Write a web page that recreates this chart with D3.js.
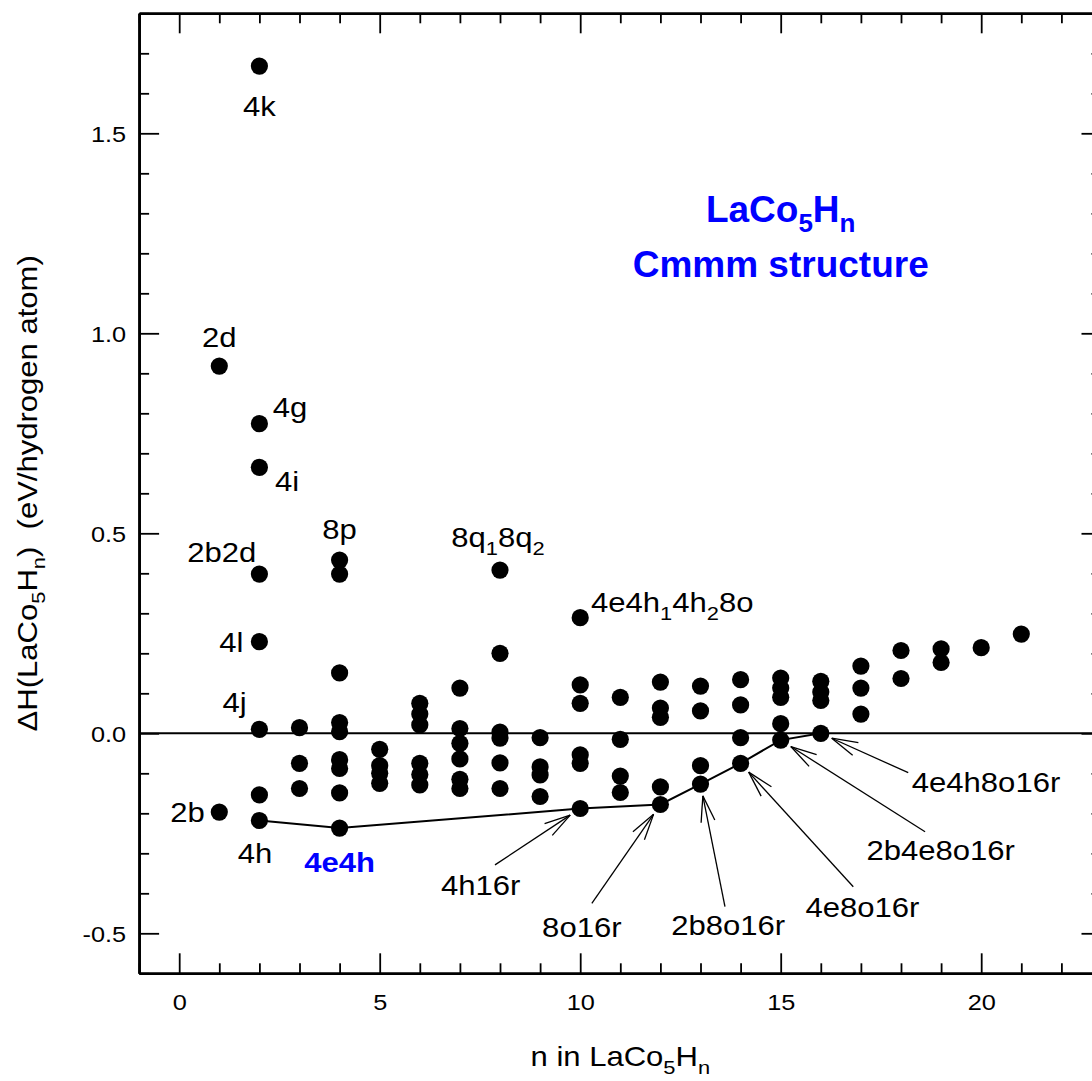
<!DOCTYPE html>
<html>
<head>
<meta charset="utf-8">
<script src="https://cdn.jsdelivr.net/npm/d3@7"></script>
<style>
  html, body { margin: 0; padding: 0; background: #fff; }
  svg { display: block; }
  text { font-family: "Liberation Sans", Arial, Helvetica, sans-serif; }
</style>
</head>
<body>
<svg id="chart" width="1092" height="1081"></svg>
<script>
// Formation enthalpy per hydrogen atom of LaCo5Hn (Cmmm cell) against hydrogen count n

const hydrogenCount = [
  1, 1,
  2, 2, 2, 2, 2, 2, 2, 2,
  3, 3, 3,
  4, 4, 4, 4, 4, 4, 4, 4, 4,
  5, 5, 5, 5,
  6, 6, 6, 6, 6, 6,
  7, 7, 7, 7, 7, 7,
  8, 8, 8, 8, 8, 8,
  9, 9, 9, 9,
  10, 10, 10, 10, 10, 10,
  11, 11, 11, 11,
  12, 12, 12, 12, 12,
  13, 13, 13, 13,
  14, 14, 14, 14,
  15, 15, 15, 15, 15,
  16, 16, 16, 16,
  17, 17, 17,
  18, 18,
  19, 19,
  20,
  21
];

const formationEnthalpy = [
  0.918, -0.197,
  1.668, 0.774, 0.665, 0.398, 0.229, 0.010, -0.154, -0.218,
  0.014, -0.075, -0.138,
  0.433, 0.398, 0.151, 0.027, 0.004, -0.066, -0.088, -0.149, -0.237,
  -0.040, -0.081, -0.100, -0.125,
  0.075, 0.048, 0.021, -0.075, -0.103, -0.129,
  0.113, 0.012, -0.025, -0.064, -0.115, -0.138,
  0.408, 0.200, 0.003, -0.012, -0.074, -0.138,
  -0.011, -0.084, -0.104, -0.158,
  0.289, 0.121, 0.075, -0.054, -0.075, -0.188,
  0.090, -0.015, -0.107, -0.148,
  0.128, 0.063, 0.040, -0.134, -0.178,
  0.118, 0.056, -0.081, -0.127,
  0.134, 0.071, -0.011, -0.075,
  0.138, 0.113, 0.090, 0.024, -0.017,
  0.130, 0.103, 0.082, 0.000,
  0.168, 0.113, 0.048,
  0.207, 0.137,
  0.211, 0.177,
  0.214,
  0.248
];

// lowest-energy configurations joined by the solid line
const hullCount = [2, 4, 10, 12, 13, 14, 15, 16];
const hullEnthalpy = [-0.218, -0.237, -0.188, -0.178, -0.127, -0.075, -0.017, 0.000];

const xMajorTicks = [0, 5, 10, 15, 20];
const xTickLabels = ["0", "5", "10", "15", "20"];
const yMajorTicks = [-0.5, 0.0, 0.5, 1.0, 1.5];
const yTickLabels = ["-0.5", "0.0", "0.5", "1.0", "1.5"];

// site-occupation labels placed beside individual configurations (data units)
const siteLabels = [
  { parts: ["4k"], n: 2, dH: 1.543, anchor: "middle" },
  { parts: ["2d"], n: 1, dH: 0.967, anchor: "middle" },
  { parts: ["4g"], n: 2.33, dH: 0.790, anchor: "start" },
  { parts: ["4i"], n: 2.39, dH: 0.6065, anchor: "start" },
  { parts: ["8p"], n: 4, dH: 0.485, anchor: "middle" },
  { parts: ["2b2d"], n: 1.92, dH: 0.429, anchor: "end" },
  { parts: ["4l"], n: 1.60, dH: 0.204, anchor: "end" },
  { parts: ["4j"], n: 1.68, dH: 0.054, anchor: "end" },
  { parts: ["2b"], n: 0.64, dH: -0.221, anchor: "end" },
  { parts: ["4h"], n: 1.89, dH: -0.325, anchor: "middle" },
  { parts: ["8q", { sub: "1" }, "8q", { sub: "2" }], n: 7.95, dH: 0.4665, anchor: "middle" },
  { parts: ["4e4h", { sub: "1" }, "4h", { sub: "2" }, "8o"], n: 10.27, dH: 0.304, anchor: "start" },
  { parts: ["4e4h"], n: 4, dH: -0.346, anchor: "middle", bold: true, fill: "#0000ff" }
];

// labels with arrows pointing at configurations on the lower line
const arrowLabels = [
  { parts: ["4h16r"], n: 7.52, dH: -0.404, anchor: "middle", fromN: 7.875, fromDH: -0.329, toN: 10, toDH: -0.188 },
  { parts: ["8o16r"], n: 10.04, dH: -0.5085, anchor: "middle", fromN: 10.29, fromDH: -0.425, toN: 12, toDH: -0.178 },
  { parts: ["2b8o16r"], n: 13.69, dH: -0.504, anchor: "middle", fromN: 13.61, fromDH: -0.4335, toN: 13, toDH: -0.127 },
  { parts: ["4e8o16r"], n: 17.04, dH: -0.4585, anchor: "middle", fromN: 16.81, fromDH: -0.3835, toN: 14, toDH: -0.075 },
  { parts: ["2b4e8o16r"], n: 18.99, dH: -0.317, anchor: "middle", fromN: 18.6, fromDH: -0.246, toN: 15, toDH: -0.017 },
  { parts: ["4e4h8o16r"], n: 18.27, dH: -0.146, anchor: "start", fromN: 18.18, fromDH: -0.0985, toN: 16, toDH: 0.000 }
];

const svg = d3.select("#chart");

const x = d3.scaleLinear().domain([-1, 23]).range([139.1, 1101.5]);
const y = d3.scaleLinear().domain([-0.6, 1.8]).range([973.3, 13.3]);

const STRETCH = 1.15;       // the lettering is set slightly expanded
const LABEL_SIZE = 27;
const SUB_SIZE = 19;
const SUB_SHIFT = 8;

// writes a text run with optional subscripts
function writeText(parent, px, py, parts, opt) {
  const sx = opt.stretch == null ? STRETCH : opt.stretch;
  const t = parent.append("text")
    .attr("transform", `translate(${px},${py})${opt.rotate ? ` rotate(${opt.rotate})` : ""} scale(${sx},1)`)
    .attr("text-anchor", opt.anchor || "start")
    .attr("font-size", opt.size || LABEL_SIZE)
    .attr("font-weight", opt.bold ? "bold" : "normal")
    .attr("fill", opt.fill || "#000")
    .style("white-space", "pre");
  const subSize = opt.subSize || SUB_SIZE;
  const shift = opt.subShift || SUB_SHIFT;
  let lowered = false;
  parts.forEach(p => {
    const span = t.append("tspan");
    if (typeof p === "string") {
      span.text(p);
      if (lowered) { span.attr("dy", -shift); lowered = false; }
    } else {
      span.text(p.sub).attr("font-size", subSize).attr("dy", shift);
      lowered = true;
    }
  });
  return t;
}

// zero reference line
svg.append("line")
  .attr("x1", x(-1)).attr("x2", x(23))
  .attr("y1", y(0)).attr("y2", y(0))
  .attr("stroke", "#000").attr("stroke-width", 2);

// lower line through the most stable configurations
const hullPoints = hullCount.map((n, i) => [n, hullEnthalpy[i]]);
svg.append("path")
  .attr("d", d3.line().x(d => x(d[0])).y(d => y(d[1]))(hullPoints))
  .attr("fill", "none").attr("stroke", "#000").attr("stroke-width", 2);

// configurations
svg.append("g").selectAll("circle")
  .data(hydrogenCount.map((n, i) => [n, formationEnthalpy[i]]))
  .join("circle")
  .attr("cx", d => x(d[0]))
  .attr("cy", d => y(d[1]))
  .attr("r", 8.6)
  .attr("fill", "#000");

// arrows
const arrowG = svg.append("g").attr("stroke", "#000").attr("stroke-width", 1.3).attr("fill", "none");
arrowLabels.forEach(a => {
  const sx = x(a.fromN), sy = y(a.fromDH);
  const tx = x(a.toN), ty = y(a.toDH);
  const len = Math.hypot(tx - sx, ty - sy);
  const ux = (tx - sx) / len, uy = (ty - sy) / len;
  const gap = 12;
  const hx = tx - ux * gap, hy = ty - uy * gap;
  arrowG.append("line").attr("x1", sx).attr("y1", sy).attr("x2", hx).attr("y2", hy);
  const headLen = 27, ang = 15 * Math.PI / 180;
  [ang, -ang].forEach(r => {
    const bx = -ux, by = -uy;
    const rx = bx * Math.cos(r) - by * Math.sin(r);
    const ry = bx * Math.sin(r) + by * Math.cos(r);
    arrowG.append("line")
      .attr("x1", hx).attr("y1", hy)
      .attr("x2", hx + rx * headLen).attr("y2", hy + ry * headLen);
  });
  writeText(svg, x(a.n), y(a.dH), a.parts, { anchor: a.anchor });
});

// site labels
siteLabels.forEach(l => {
  writeText(svg, x(l.n), y(l.dH), l.parts, { anchor: l.anchor, bold: l.bold, fill: l.fill });
});

// compound / structure caption
writeText(svg, x(15), y(1.279), ["LaCo", { sub: "5" }, "H", { sub: "n" }],
  { anchor: "middle", bold: true, fill: "#0000ff", size: 37, subSize: 26, subShift: 10, stretch: 1 });
writeText(svg, x(15), y(1.1415), ["Cmmm structure"],
  { anchor: "middle", bold: true, fill: "#0000ff", size: 37, stretch: 1 });

// axes with inward ticks on all four sides
function styleAxis(g) {
  g.selectAll("path.domain").attr("stroke", "#000").attr("stroke-width", 2.6);
  g.selectAll(".tick line").attr("stroke", "#000").attr("stroke-width", 1.8);
}
const xMinor = d3.range(-1, 24, 1).filter(v => !xMajorTicks.includes(v));
const yMinor = d3.range(-6, 19, 1).map(v => v / 10).filter(v => !yMajorTicks.some(m => Math.abs(m - v) < 1e-9));

function axisPair(axisFn, pos, transform, labels, labelList) {
  const gMinor = svg.append("g").attr("transform", transform)
    .call(axisFn(pos).tickValues(axisFn === d3.axisBottom || axisFn === d3.axisTop ? xMinor : yMinor)
      .tickSize(-10).tickSizeOuter(0).tickFormat(""));
  styleAxis(gMinor);
  const major = axisFn(pos)
    .tickValues(axisFn === d3.axisBottom || axisFn === d3.axisTop ? xMajorTicks : yMajorTicks)
    .tickSize(-20).tickSizeOuter(0);
  if (labels) {
    major.tickFormat((d, i) => labelList[i]);
  } else {
    major.tickFormat("");
  }
  const gMajor = svg.append("g").attr("transform", transform);
  gMajor.call(major);
  styleAxis(gMajor);
  return gMajor;
}

const gBottom = axisPair(d3.axisBottom, x, `translate(0,${y(-0.6)})`, true, xTickLabels);
gBottom.call(g => g.selectAll(".tick text").attr("font-size", 22).attr("fill", "#000")
  .attr("font-family", "'Liberation Sans', Arial, sans-serif")
  .attr("y", 21).attr("transform", `scale(${STRETCH},1)`));
axisPair(d3.axisTop, x, `translate(0,${y(1.8)})`, false);
const gLeft = axisPair(d3.axisLeft, y, `translate(${x(-1)},0)`, true, yTickLabels);
gLeft.call(g => g.selectAll(".tick text").attr("font-size", 22).attr("fill", "#000")
  .attr("font-family", "'Liberation Sans', Arial, sans-serif")
  .attr("x", -11.3).attr("dy", "0.36em").attr("transform", `scale(${STRETCH},1)`));
axisPair(d3.axisRight, y, `translate(${x(23)},0)`, false);

// axis titles
writeText(svg, (x(-1) + x(23)) / 2, 1066, ["n in LaCo", { sub: "5" }, "H", { sub: "n" }], { anchor: "middle" });
writeText(svg, 37, (y(-0.6) + y(1.8)) / 2,
  ["\u0394H(LaCo", { sub: "5" }, "H", { sub: "n" }, ")  (eV/hydrogen atom)"],
  { anchor: "middle", rotate: -90 });
</script>
</body>
</html>
